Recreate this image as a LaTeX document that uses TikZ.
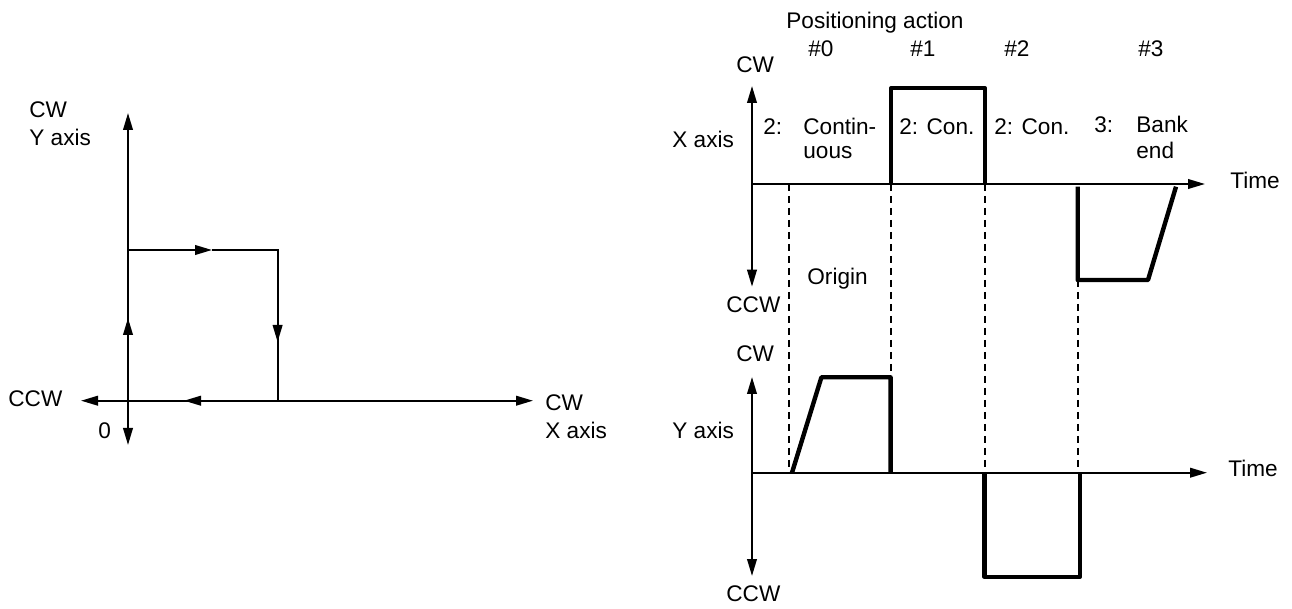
\documentclass[tikz,border=0pt]{standalone}
\usepackage{fontspec}
\setmainfont{Liberation Sans}
\usetikzlibrary{arrows.meta}
\tikzset{
  axis/.style  = {line width=1pt, {Triangle[length=8.5pt,width=4.8pt]}-{Triangle[length=8.5pt,width=4.8pt]}},
  tip/.style   = {-{Triangle[length=8.5pt,width=4.8pt]}},
  route/.style = {line width=1pt},
  sig/.style   = {line width=2.2pt, line join=round},
  guide/.style = {line width=1pt, dash pattern=on 3.4pt off 2.6pt},
  lbl/.style   = {anchor=base west, inner sep=0pt, font=\fontsize{11.3}{13.85}\selectfont},
}
\begin{document}
\begin{tikzpicture}[x=0.5pt,y=-0.5pt]
  \useasboundingbox (0,0) rectangle (1292,609);

  % left: path in the X-Y plane
  \draw[axis] (81,400.7) -- (533,400.7);
  \draw[axis] (128,445) -- (128,113);
  \draw[route,tip] (128,400.7) -- (128,318);
  \draw[route] (128,318) -- (128,250);
  \draw[route,tip] (128,250) -- (212,250);
  \draw[route] (212,250) -- (277.6,250) -- (277.6,342);
  \draw[route,tip] (277.6,250) -- (277.6,342);
  \draw[route] (277.6,342) -- (277.6,400.7);
  \draw[route,tip] (277.6,400.7) -- (184,400.7);
  \node[lbl] (cwY)  at (29,118)    {CW};
  \node[lbl] (yax)  at (29,146)    {Y axis};
  \node[lbl] (ccwX) at (8,407)     {CCW};
  \node[lbl] (zero) at (98,438)    {0};
  \node[lbl] (cwX)  at (545,410.7) {CW};
  \node[lbl] (xax)  at (545,438.3) {X axis};

  % right: X axis against time
  \draw[axis] (752,286.7) -- (752,86);
  \draw[route,tip] (752,184) -- (1205,184);
  \draw[sig] (891,184) -- (891,88.3) -- (985,88.3) -- (985,184);
  \draw[sig] (1077.7,186.7) -- (1077.7,280) -- (1148,280) -- (1176,186.7);

  % right: Y axis against time
  \draw[axis] (752,576) -- (752,377);
  \draw[route,tip] (752,472.7) -- (1207,472.7);
  \draw[sig] (792,472.7) -- (821.4,377.3) -- (890.6,377.3) -- (890.6,472.7);
  \draw[sig] (984.5,472.7) -- (984.5,576.7) -- (1080,576.7) -- (1080,472.7);

  % guides between the two plots
  \draw[guide] (789,184) -- (789,472.7);
  \draw[guide] (890.6,184) -- (890.6,377.3);
  \draw[guide] (984.5,184) -- (984.5,472.7);
  \draw[guide] (1077.7,280) -- (1077.7,472.7);

  \node[lbl] (head) at (786,29)   {Positioning action};
  \node[lbl] (n0)   at (808,57)   {\#0};
  \node[lbl] (n1)   at (910,57)   {\#1};
  \node[lbl] (n2)   at (1004,57)  {\#2};
  \node[lbl] (n3)   at (1138,57)  {\#3};
  \node[lbl] (cwT)  at (736,73)   {CW};
  \node[lbl] (xaxR) at (672,148)  {X axis};
  \node[lbl] (a0)   at (763,135)  {2:};
  \node[lbl] (c0)   at (803,135)  {Contin-};
  \node[lbl] (c0b)  at (803,159)  {uous};
  \node[lbl] (a1)   at (899,135)  {2: Con.};
  \node[lbl] (a2)   at (994,135)  {2: Con.};
  \node[lbl] (a3)   at (1094,133) {3:};
  \node[lbl] (c3)   at (1136,133) {Bank};
  \node[lbl] (c3b)  at (1136,159) {end};
  \node[lbl] (timeT) at (1230,189) {Time};
  \node[lbl] (orig) at (807,285)  {Origin};
  \node[lbl] (ccwT) at (726,313)  {CCW};
  \node[lbl] (cwB)  at (736,362)  {CW};
  \node[lbl] (yaxR) at (672,438)  {Y axis};
  \node[lbl] (ccwB) at (726,601)  {CCW};
  \node[lbl] (timeB) at (1228,477) {Time};
\end{tikzpicture}
\end{document}
